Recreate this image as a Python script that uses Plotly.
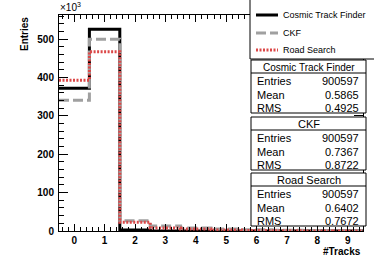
import plotly.graph_objects as go

# ---------------- data ----------------
tracks = [0, 1, 2, 3, 4, 5, 6, 7, 8, 9]
cosmic = [372000, 526000, 2400, 150, 30, 10, 5, 2, 0, 0]
ckf = [341000, 500000, 27000, 13000, 8000, 5000, 3000, 2000, 1200, 397]
road = [393000, 467000, 23000, 8000, 5000, 2500, 1200, 600, 200, 97]
series_names = ["Cosmic Track Finder", "CKF", "Road Search"]
stat_entries = ["900597", "900597", "900597"]
stat_mean = ["0.5865", "0.7367", "0.6402"]
stat_rms = ["0.4925", "0.8722", "0.7672"]

# ---------------- layout geometry ----------------
W, H = 374, 266
L, R, T, B = 59, 11, 15, 35
PW, PH = W - L - R, H - T - B


def px(x):
    return (x - L) / PW


def py(y):
    return (H - B - y) / PH


FONT = "Liberation Sans, Arial, Helvetica, sans-serif"
colors = ["#000000", "#a0a0a0", "#dc4848"]
dashes = ["solid", "10px,4px", "2px,1.5px"]
widths = [3, 3, 3]


def step(values):
    edges = [t - 0.5 for t in tracks] + [tracks[-1] + 0.5]
    ys = [v / 1000 for v in values] + [values[-1] / 1000]
    return edges, ys


fig = go.Figure()
for name, vals, c, d, w in zip(series_names, [cosmic, ckf, road], colors, dashes, widths):
    xs, ys = step(vals)
    fig.add_trace(go.Scatter(x=xs, y=ys, mode="lines", line_shape="hv", name=name,
                             line=dict(color=c, width=w, dash=d), showlegend=False,
                             hoverinfo="skip"))

axis_common = dict(showgrid=False, zeroline=False, showline=True, linecolor="black",
                   linewidth=1, mirror="ticks", ticks="inside", tickcolor="black",
                   tickfont=dict(family=FONT, size=10, color="black", weight="bold"))

fig.update_layout(
    width=W, height=H,
    margin=dict(l=L, r=R, t=T, b=B, pad=0),
    paper_bgcolor="white", plot_bgcolor="white",
    showlegend=False,
    xaxis=dict(range=[-0.5, 9.5], tick0=0, dtick=1, ticklen=7,
               minor=dict(ticks="inside", ticklen=4, dtick=0.2, tick0=0, tickcolor="black"),
               ticklabelstandoff=0, **axis_common),
    yaxis=dict(range=[0, 563], tick0=0, dtick=100, ticklen=9,
               minor=dict(ticks="inside", ticklen=5, dtick=20, tick0=0, tickcolor="black"),
               ticklabelstandoff=2, **axis_common),
)

shapes = []
annots = []

# axis titles
annots.append(dict(text="Entries", x=px(24), y=py(15), xref="paper", yref="paper",
                   xanchor="center", yanchor="top", textangle=-90, showarrow=False,
                   font=dict(family=FONT, size=10, color="black", weight="bold")))
annots.append(dict(text="#Tracks", x=px(363), y=py(251), xref="paper", yref="paper",
                   xanchor="right", yanchor="middle", showarrow=False,
                   font=dict(family=FONT, size=10, color="black", weight="bold")))
annots.append(dict(text="×10<sup>3</sup>", x=px(58), y=py(7), xref="paper", yref="paper",
                   xanchor="left", yanchor="middle", showarrow=False,
                   font=dict(family=FONT, size=10, color="black")))

# legend box
shapes.append(dict(type="rect", xref="paper", yref="paper", x0=px(250), x1=px(376),
                   y0=py(59), y1=py(-2), fillcolor="white", line=dict(color="black", width=1),
                   layer="above"))
leg_y = [15, 33, 50]
for name, c, d, ly in zip(series_names, colors, dashes, leg_y):
    shapes.append(dict(type="line", xref="paper", yref="paper", x0=px(256), x1=px(278),
                       y0=py(ly), y1=py(ly), line=dict(color=c, width=3, dash=d), layer="above"))
    annots.append(dict(text=name, x=px(281), y=py(ly), xref="paper", yref="paper",
                       xanchor="left", yanchor="middle", showarrow=False,
                       font=dict(family=FONT, size=9, color="black")))

# stat boxes
box_tops = [60, 117, 173]
box_h = 53
head_h = 13
for i, name in enumerate(series_names):
    top = box_tops[i]
    bot = top + box_h
    shapes.append(dict(type="rect", xref="paper", yref="paper", x0=px(251), x1=px(366),
                       y0=py(bot), y1=py(top), fillcolor="white",
                       line=dict(color="black", width=1), layer="above"))
    shapes.append(dict(type="line", xref="paper", yref="paper", x0=px(251), x1=px(366),
                       y0=py(top + head_h), y1=py(top + head_h),
                       line=dict(color="black", width=1), layer="above"))
    annots.append(dict(text=name, x=px(308.5), y=py(top + 7), xref="paper", yref="paper",
                       xanchor="center", yanchor="middle", showarrow=False,
                       font=dict(family=FONT, size=10 if i == 0 else 11, color="black")))
    rows = [("Entries", stat_entries[i]), ("Mean", stat_mean[i]), ("RMS", stat_rms[i])]
    for j, (lab, val) in enumerate(rows):
        ry = top + 21 + j * 13.5
        annots.append(dict(text=lab, x=px(255), y=py(ry), xref="paper", yref="paper",
                           xanchor="left", yanchor="middle", showarrow=False,
                           font=dict(family=FONT, size=11, color="black")))
        annots.append(dict(text=val, x=px(361), y=py(ry), xref="paper", yref="paper",
                           xanchor="right", yanchor="middle", showarrow=False,
                           font=dict(family=FONT, size=11, color="black")))

fig.update_layout(shapes=shapes, annotations=annots)
fig.write_html("out.html", config={"displayModeBar": False},
               post_script="document.body.style.margin='0px';document.body.style.overflow='hidden';")
